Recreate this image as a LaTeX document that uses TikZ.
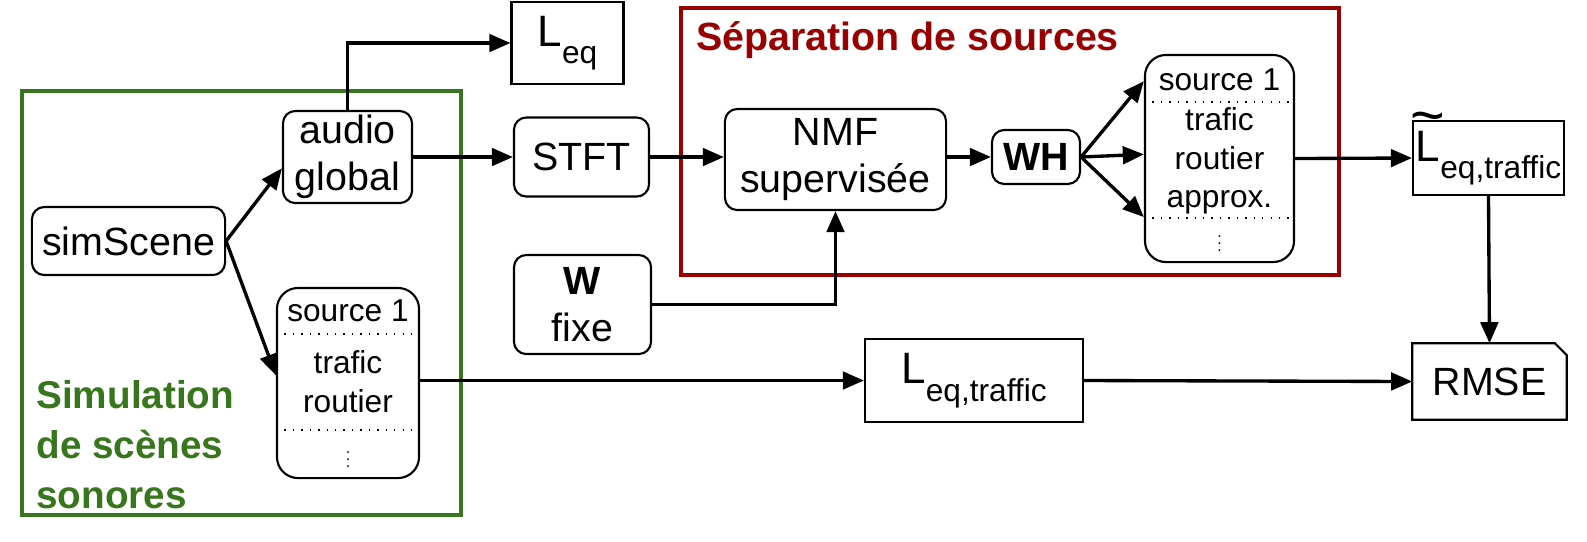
\documentclass[tikz,border=0pt]{standalone}
\usepackage{fontspec}
\setmainfont{Liberation Sans}
\usepackage{xcolor}
\usetikzlibrary{arrows.meta,positioning,calc}

\definecolor{simgreen}{HTML}{38761D}
\definecolor{sepred}{HTML}{990000}
\newcommand{\Lsub}[1]{{\fontsize{12.5}{12.5}\selectfont L}\raisebox{-5pt}{\fontsize{9}{9}\selectfont #1}}
\newcommand{\Ltsub}[1]{{\fontsize{12.5}{12.5}\selectfont\ooalign{L\cr\hidewidth\raisebox{0.58em}{\scalebox{1.35}{\symbol{"7E}}}\hidewidth\cr}}\raisebox{-5pt}{\fontsize{9}{9}\selectfont #1}}
\newcommand{\smalldots}{\scalebox{0.5}{$\vdots$}}

\begin{document}
\begin{tikzpicture}[x=0.01cm, y=-0.01cm,
  box/.style={draw, line width=0.6pt, rounded corners=3.5pt, inner sep=0pt, align=center, font=\fontsize{11.2}{13.4}\selectfont},
  sqbox/.style={box, sharp corners},
  srcbox/.style={draw, line width=0.6pt, rounded corners=6pt, inner sep=0pt},
  srctxt/.style={align=center, font=\fontsize{9}{11}\selectfont, inner sep=0pt},
  arrow/.style={-{Triangle[length=6pt,width=5pt]}, line width=0.95pt},
  frame/.style={line width=1.1pt}
]
\useasboundingbox (0,0) rectangle (1587,541);

% groups
\draw[frame, simgreen] (22,91) rectangle (461,515);
\draw[frame, sepred] (681,8) rectangle (1339,275);
\node[anchor=west, align=left, text=simgreen, font=\fontsize{11}{14.2}\selectfont\bfseries] (simtitle) at (24,445) {Simulation\\de scènes\\sonores};
\node[anchor=west, text=sepred, font=\fontsize{11.2}{13.4}\selectfont\bfseries] (septitle) at (684,40) {Séparation de sources};

% blocks
\node[box, minimum width=1.93cm, minimum height=0.68cm] (sim) at (128.5,241) {simScene};
\node[box, minimum width=1.29cm, minimum height=0.92cm] (audio) at (347.5,157) {audio\\global};
\node[sqbox, minimum width=1.12cm, minimum height=0.82cm] (leq) at (567.5,43) {\Lsub{eq}};
\node[box, minimum width=1.35cm, minimum height=0.79cm] (stft) at (581.5,157) {STFT};
\node[box, minimum width=1.37cm, minimum height=0.99cm] (wfix) at (582.5,304.5) {\textbf{W}\\fixe};
\node[box, minimum width=2.21cm, minimum height=1.01cm] (nmf) at (835.5,159.5) {NMF\\supervisée};
\node[box, minimum width=0.88cm, minimum height=0.54cm, font=\fontsize{11.2}{13.4}\selectfont\bfseries] (wh) at (1036,157) {WH};
\node[sqbox, minimum width=1.51cm, minimum height=0.74cm] (ltil) at (1488.5,158) {\Ltsub{eq,traffic}};
\node[minimum width=1.53cm, minimum height=0.75cm, inner sep=0pt, font=\fontsize{11.2}{13.4}\selectfont] (rmse) at (1489.5,381.5) {RMSE};
\draw[line width=0.6pt] (rmse.south west) -- (rmse.north west) -- ([xshift=-3.4pt]rmse.north east)
  -- ([yshift=-3.4pt]rmse.north east) -- (rmse.south east) -- cycle;
\node[sqbox, minimum width=2.18cm, minimum height=0.83cm] (leqt) at (974,380.5) {\Lsub{eq,traffic}};

% source lists
\node[srcbox, minimum width=1.42cm, minimum height=1.90cm] (srcL) at (348,383) {};
\draw[dotted, line width=0.4pt] (srcL.west |- 0,334) -- (srcL.east |- 0,334);
\draw[dotted, line width=0.4pt] (srcL.west |- 0,430) -- (srcL.east |- 0,430);
\node[srctxt] (srcLa) at (348,311) {source 1};
\node[srctxt] (srcLb) at (348,382) {trafic\\routier};
\node[srctxt] (srcLc) at (348,454) {\smalldots};

\node[srcbox, minimum width=1.49cm, minimum height=2.07cm] (srcR) at (1219.5,158.5) {};
\draw[dotted, line width=0.4pt] (srcR.west |- 0,102) -- (srcR.east |- 0,102);
\draw[dotted, line width=0.4pt] (srcR.west |- 0,218) -- (srcR.east |- 0,218);
\node[srctxt] (srcRa) at (1219.5,80) {source 1};
\node[srctxt] (srcRb) at (1219.5,161) {trafic\\routier\\approx.};
\node[srctxt] (srcRc) at (1219.5,238) {\smalldots};

% connectors
\draw[arrow] (sim.east) -- ($(audio.north west)!0.62!(audio.south west)$);
\draw[arrow] (sim.east) -- ($(srcL.north west)!0.46!(srcL.south west)$);
\draw[arrow] (audio.north) |- (leq.west);
\draw[arrow] (audio.east) -- (stft.west);
\draw[arrow] (stft.east) -- (stft.east -| nmf.west);
\draw[arrow] (wfix.east) -| (nmf.south);
\draw[arrow] (nmf.east |- wh) -- (wh.west);
\draw[arrow] (wh.east) -- ($(srcR.north west)!0.13!(srcR.south west)$);
\draw[arrow] (wh.east) -- ($(srcR.north west)!0.48!(srcR.south west)$);
\draw[arrow] (wh.east) -- ($(srcR.north west)!0.78!(srcR.south west)$);
\draw[arrow] (srcR.east) -- (ltil.west);
\draw[arrow] (ltil.south) -- (rmse.north);
\draw[arrow] (srcL.east |- leqt) -- (leqt.west);
\draw[arrow] (leqt.east) -- (rmse.west);
\end{tikzpicture}
\end{document}
